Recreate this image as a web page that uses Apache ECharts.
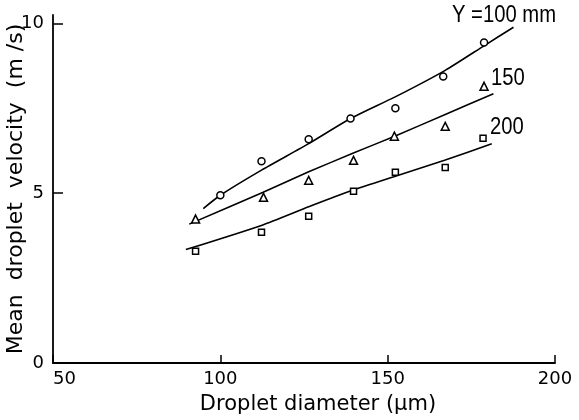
<!DOCTYPE html>
<html>
<head>
<meta charset="utf-8">
<script src="https://cdn.jsdelivr.net/npm/echarts@6/dist/echarts.min.js"></script>
<style>
    html, body { margin: 0; padding: 0; background: #fff; }
    #chart { width: 579px; height: 420px; }
</style>
</head>
<body>
<div id="chart"></div>
<script>
// measured points, Y = 100 / 150 / 200 mm
const diam100 = [100, 112.3, 126.4, 138.9, 152.3, 166.6, 178.8];
const vel100 = [4.94, 5.94, 6.59, 7.2, 7.5, 8.44, 9.44];
const diam150 = [92.6, 112.9, 126.4, 139.8, 152, 167.2, 178.8];
const vel150 = [4.24, 4.88, 5.38, 5.97, 6.68, 6.97, 8.15];
const diam200 = [92.6, 112.3, 126.4, 139.8, 152.3, 167.2, 178.5];
const vel200 = [3.29, 3.85, 4.32, 5.06, 5.62, 5.76, 6.62];

// hand-drawn fit curves
const fitDiam100 = [94.9, 100, 112.3, 126.4, 138.9, 152.1, 167.2, 178.9, 187.6];
const fitVel100 = [4.55, 4.94, 5.68, 6.46, 7.2, 7.83, 8.62, 9.35, 9.89];
const fitDiam150 = [90.7, 112.8, 126.4, 139.4, 152.1, 167.2, 181.6];
const fitVel150 = [4.09, 5.03, 5.63, 6.17, 6.68, 7.32, 7.93];
const fitDiam200 = [89.7, 112.5, 126.4, 139.9, 152.3, 167, 181.1];
const fitVel200 = [3.34, 4.06, 4.6, 5.1, 5.5, 5.97, 6.46];

const yTicks = [0, 5, 10];

const zip = (xs, ys) => xs.map((x, i) => [x, ys[i]]);

const FONT = 'DejaVu Sans';
const LABEL_FONT = "23px 'Liberation Sans', sans-serif";

const pointSeries = (data, symbol, size) => ({
    type: 'scatter',
    data,
    symbol,
    symbolSize: size,
    itemStyle: {
        color: '#fff',
        borderColor: '#000',
        borderWidth: 1.5,
        opacity: 1,
    },
    z: 3,
});

const fitSeries = data => ({
    type: 'line',
    data,
    symbol: 'none',
    smooth: 0.2,
    lineStyle: {
        color: '#000',
        width: 1.6,
    },
    z: 2,
});

const option = {
    backgroundColor: '#fff',
    animation: false,
    grid: {
        left: 53,
        right: 24,
        top: 15,
        bottom: 57,
        outerBoundsMode: 'none',
        containLabel: false,
    },
    xAxis: {
        type: 'value',
        min: 50,
        max: 200,
        interval: 50,
        name: 'Droplet diameter (\u03bcm)',
        nameLocation: 'middle',
        nameGap: 31,
        nameMoveOverlap: false,
        nameTextStyle: {
            color: '#000',
            fontFamily: FONT,
            fontSize: 21,
            padding: [0, 0, 0, 28],
        },
        axisLine: {
            lineStyle: { color: '#000', width: 1.8 },
        },
        axisTick: {
            inside: false,
            length: -8,
            lineStyle: { color: '#000', width: 1.5 },
        },
        axisLabel: {
            color: '#000',
            fontFamily: FONT,
            fontSize: 18,
            margin: 7,
            alignMinLabel: 'left',
        },
        splitLine: { show: false },
    },
    yAxis: {
        type: 'value',
        min: 0,
        max: 10.25,
        name: 'Mean  droplet  velocity  (m /s)',
        nameLocation: 'middle',
        nameGap: 26,
        nameMoveOverlap: false,
        nameTextStyle: {
            color: '#000',
            fontFamily: FONT,
            fontSize: 22,
        },
        axisLine: {
            lineStyle: { color: '#000', width: 1.8 },
        },
        axisTick: {
            inside: false,
            length: -10,
            lineStyle: { color: '#000', width: 1.5 },
            customValues: yTicks,
        },
        axisLabel: {
            color: '#000',
            fontFamily: FONT,
            fontSize: 18,
            margin: 9,
            customValues: yTicks,
        },
        splitLine: { show: false },
    },
    graphic: [
        {
            type: 'text',
            x: 452,
            y: 16,
            scaleX: 0.88,
            style: { text: 'Y =100 mm', font: LABEL_FONT, fill: '#000', verticalAlign: 'middle' },
        },
        {
            type: 'text',
            x: 491,
            y: 79,
            scaleX: 0.88,
            style: { text: '150', font: LABEL_FONT, fill: '#000', verticalAlign: 'middle' },
        },
        {
            type: 'text',
            x: 490,
            y: 128,
            scaleX: 0.88,
            style: { text: '200', font: LABEL_FONT, fill: '#000', verticalAlign: 'middle' },
        },
    ],
    series: [
        fitSeries(zip(fitDiam100, fitVel100)),
        fitSeries(zip(fitDiam150, fitVel150)),
        fitSeries(zip(fitDiam200, fitVel200)),
        pointSeries(zip(diam100, vel100), 'circle', 7),
        pointSeries(zip(diam150, vel150), 'triangle', 8),
        pointSeries(zip(diam200, vel200), 'rect', 6),
    ],
};

const myChart = echarts.init(document.getElementById('chart'), null, { renderer: 'canvas' });
myChart.setOption(option);
</script>
</body>
</html>
